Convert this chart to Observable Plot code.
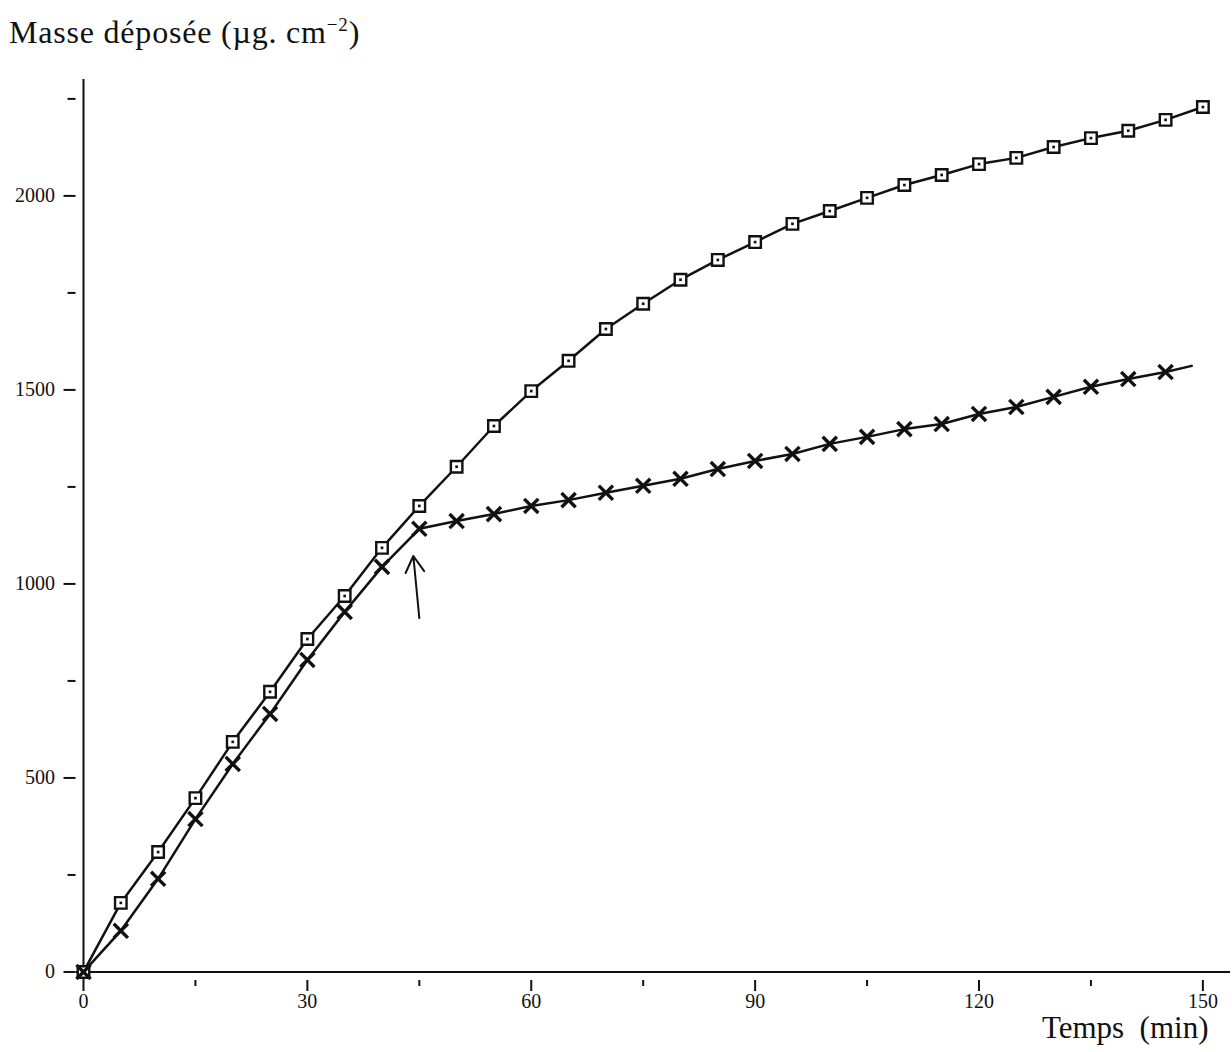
<!DOCTYPE html>
<html>
<head>
<meta charset="utf-8">
<script src="https://cdn.jsdelivr.net/npm/d3@7"></script>
<script src="https://cdn.jsdelivr.net/npm/@observablehq/plot@0.6"></script>
<style>
  html, body { margin: 0; padding: 0; background: #fff; }
  #title { height: 60px; font-family: "Liberation Serif", "DejaVu Serif", serif; font-size: 32px; letter-spacing: 0.8px; color: #111; padding-left: 9px; box-sizing: border-box; padding-top: 15px; line-height: 1; white-space: nowrap; }
  #title sup { font-size: 19px; }
  #chart svg { display: block; }
</style>
</head>
<body>
<div id="title">Masse déposée (µg. cm<sup>−2</sup>)</div>
<div id="chart"></div>
<script>
const time = [0,5,10,15,20,25,30,35,40,45,50,55,60,65,70,75,80,85,90,95,100,105,110,115,120,125,130,135,140,145,150];
const massSquares = [0,178,309,448,593,722,858,969,1093,1201,1302,1407,1497,1575,1657,1722,1784,1835,1881,1928,1961,1995,2028,2054,2082,2098,2126,2149,2168,2196,2229];
const timeCross = [0,5,10,15,20,25,30,35,40,45,50,55,60,65,70,75,80,85,90,95,100,105,110,115,120,125,130,135,140,145];
const massCross = [0,106,240,394,536,665,804,928,1044,1142,1162,1180,1201,1216,1235,1253,1271,1296,1317,1335,1361,1379,1399,1412,1438,1456,1482,1508,1528,1546];
const crossLineEnd = {t: 148.5, m: 1562};
const arrowData = [{t1: 45.0, m1: 912, t2: 44.2, m2: 1072}];
const xMajorTicks = [0,30,60,90,120,150];
const xMinorTicks = [15,45,75,105,135];
const yMajorTicks = [0,500,1000,1500,2000];
const yMinorTicks = [250,750,1250,1750,2250];
const xLabel = "Temps\u00a0\u00a0(min)";

const squares = time.map((t, i) => ({t, m: massSquares[i]}));
const crosses = timeCross.map((t, i) => ({t, m: massCross[i]}));
const crossLine = crosses.concat([crossLineEnd]);

const serif = '"Liberation Serif", "DejaVu Serif", serif';

const chart = Plot.plot({
  width: 1232,
  height: 992,
  marginLeft: 83 - 7.473,
  marginRight: 2,
  marginTop: 19,
  marginBottom: 72,
  style: {fontFamily: serif, fontSize: "20px", color: "#111", background: "#fff"},
  x: {domain: [-1, 153.7]},
  y: {domain: [-22, 2300]},
  marks: [
    Plot.ruleY([0], {stroke: "#111", strokeWidth: 2}),
    Plot.ruleX([0], {stroke: "#111", strokeWidth: 2}),
    Plot.axisX({ticks: xMajorTicks, tickSize: 11, tickPadding: 2, fontSize: 20, tickFormat: d => String(d), label: null, stroke: "#111", strokeWidth: 2}),
    Plot.axisX({ticks: xMinorTicks, tickSize: 6, tickFormat: () => "", label: null, stroke: "#111", strokeWidth: 2}),
    Plot.axisY({ticks: yMajorTicks, tickSize: 12, tickPadding: 9, fontSize: 20, tickFormat: d => String(d), label: null, stroke: "#111", strokeWidth: 2}),
    Plot.axisY({ticks: yMinorTicks, tickSize: 8, tickFormat: () => "", label: null, stroke: "#111", strokeWidth: 2}),
    Plot.line(squares, {x: "t", y: "m", stroke: "#111", strokeWidth: 2.5}),
    Plot.line(crossLine, {x: "t", y: "m", stroke: "#111", strokeWidth: 2.5}),
    Plot.dot(squares, {x: "t", y: "m", symbol: "square", r: 6.5, fill: "#fff", stroke: "#111", strokeWidth: 2.4}),
    Plot.dot(squares, {x: "t", y: "m", symbol: "square", r: 1.5, fill: "#111"}),
    Plot.dot(crosses, {x: "t", y: "m", symbol: "times", r: 6.5, stroke: "#111", strokeWidth: 3.4}),
    Plot.arrow(arrowData, {x1: "t1", y1: "m1", x2: "t2", y2: "m2", stroke: "#111", strokeWidth: 2, headLength: 14}),
    Plot.text([xLabel], {frameAnchor: "bottom-right", dx: -22, dy: 57, text: d => d, fontSize: 31, textAnchor: "end", fill: "#111", style: "letter-spacing: 1.5px"})
  ]
});
document.getElementById("chart").appendChild(chart);
</script>
</body>
</html>
